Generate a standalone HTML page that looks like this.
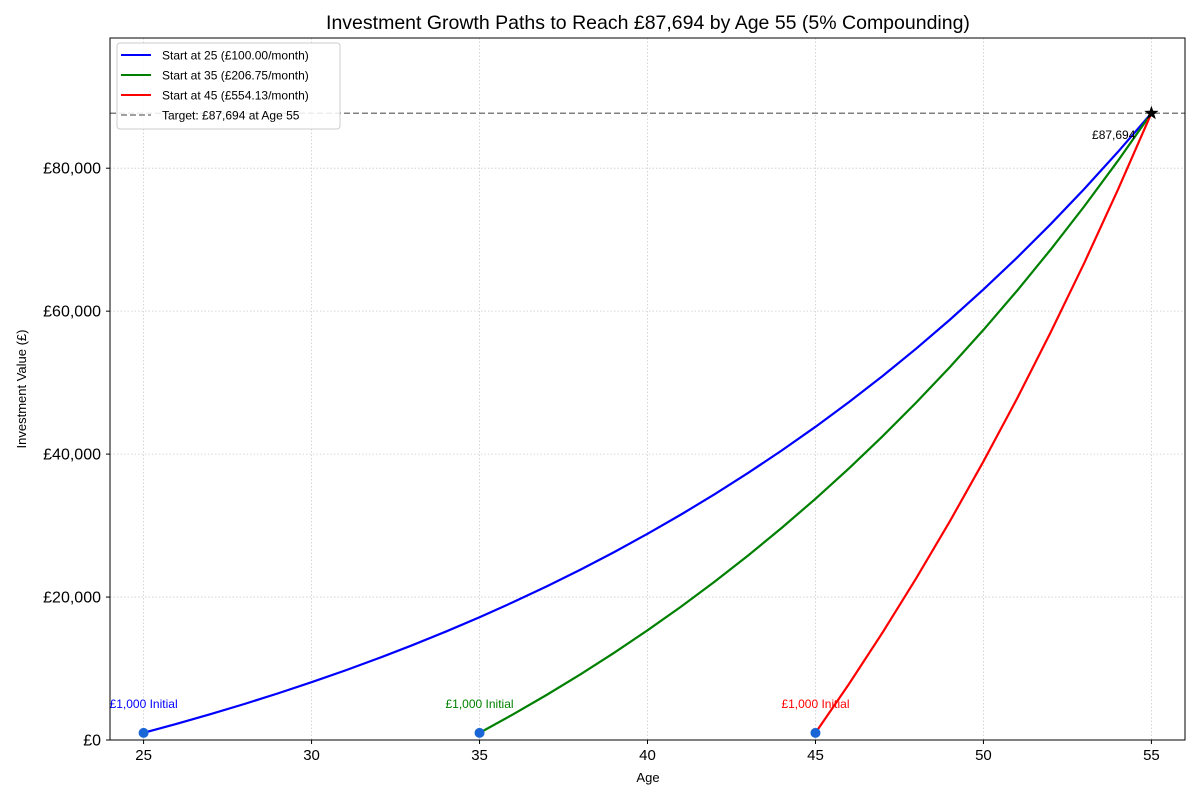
<!DOCTYPE html>
<html><head><meta charset="utf-8"><style>
body{margin:0;background:#fff;}
svg{display:block;font-family:"Liberation Sans",sans-serif;}
</style></head><body>
<svg id="chart" width="1200" height="800">
<rect width="1200" height="800" fill="#fff"/>
<text x="648" y="29" text-anchor="middle" font-size="19.5" fill="#000">Investment Growth Paths to Reach £87,694 by Age 55 (5% Compounding)</text>
<g id="grid"></g><g id="axes"></g><g id="series"></g>
<rect x="110" y="38" width="1075" height="702" fill="none" stroke="#000" stroke-width="1"/>
<text x="648" y="782" text-anchor="middle" font-size="13">Age</text>
<text transform="translate(26,389) rotate(-90)" text-anchor="middle" font-size="13">Investment Value (£)</text>
<g>
<rect x="117" y="43" width="223" height="86" rx="3" fill="#fff" fill-opacity="0.85" stroke="#ccc"/>
<line x1="121" y1="55" x2="151" y2="55" stroke="#0000ff" stroke-width="2"/><text x="162" y="59.5" font-size="12">Start at 25 (£100.00/month)</text>
<line x1="121" y1="75" x2="151" y2="75" stroke="#008000" stroke-width="2"/><text x="162" y="79.5" font-size="12">Start at 35 (£206.75/month)</text>
<line x1="121" y1="95" x2="151" y2="95" stroke="#ff0000" stroke-width="2"/><text x="162" y="99.5" font-size="12">Start at 45 (£554.13/month)</text>
<line x1="121" y1="115" x2="151" y2="115" stroke="#808080" stroke-width="1.5" stroke-dasharray="6,3"/><text x="162" y="119.5" font-size="12">Target: £87,694 at Age 55</text>
</g>
</svg>
<script>
const blueValues=[1000,2279,3624,5037,6522,8085,9725,11453,13265,15173,17175,19283,21498,23825,26273,28843,31548,34390,37378,40518,43815,47285,50933,54768,58798,63033,67485,72168,77088,82260,87694];
const greenValues=[1000,3590,6312,9174,12181,15346,18664,22164,25830,29694,33749,38018,42503,47216,52172,57376,62853,68608,74657,81015,87694];
const redValues=[1000,7853,15058,22633,30594,38969,47764,57023,66731,76956,87694];
const startAges=[25,35,45];
const xTicks=[25,30,35,40,45,50,55];
const yTicks=[0,20000,40000,60000,80000];
const yTickLabels=["£0","£20,000","£40,000","£60,000","£80,000"];
const target=87694, targetAge=55;
const X=a=>110+(a-24)/32*1075;
const Y=v=>740-v/98217*702;
const NS="http://www.w3.org/2000/svg";
function mk(tag,attrs,parent,text){const e=document.createElementNS(NS,tag);for(const k in attrs)e.setAttribute(k,attrs[k]);if(text!==undefined)e.textContent=text;parent.appendChild(e);return e;}
const grid=document.getElementById('grid'),axes=document.getElementById('axes'),ser=document.getElementById('series');
xTicks.forEach(t=>{
 const g=mk('line',{x1:X(t),x2:X(t),y1:38,y2:740,stroke:'#ccc','stroke-dasharray':'1.5,2','stroke-width':0.8},grid);
 
 
 mk('line',{x1:X(t),x2:X(t),y1:740,y2:744,stroke:'#000'},axes);
 const l=mk('text',{x:X(t),y:760,'text-anchor':'middle','font-size':15},axes,String(t));
 
 
});
yTicks.forEach((t,i)=>{
 const g=mk('line',{x1:110,x2:1185,y1:Y(t),y2:Y(t),stroke:'#ccc','stroke-dasharray':'1.5,2','stroke-width':0.8},grid);
 
 
 mk('line',{x1:106,x2:110,y1:Y(t),y2:Y(t),stroke:'#000'},axes);
 const l=mk('text',{x:101,y:Y(t)+5.5,'text-anchor':'end','font-size':16},axes,yTickLabels[i]);
 
 
});
const tl=mk('line',{x1:110,x2:1185,y1:Y(target),y2:Y(target),stroke:'#808080','stroke-width':1.5,'stroke-dasharray':'6,3'},ser);


const series=[[blueValues,'#0000ff','blue-line'],[greenValues,'#008000','green-line'],[redValues,'#ff0000','red-line']];
series.forEach(([vals,col,name],i)=>{
 const a0=startAges[i];
 const p=mk('polyline',{points:vals.map((v,j)=>X(a0+j)+','+Y(v)).join(' '),fill:'none',stroke:col,'stroke-width':2.2},ser);
 
 
});
series.forEach(([vals,col],i)=>{
 const a0=startAges[i];
 const c=mk('circle',{cx:X(a0),cy:Y(vals[0]),r:5,fill:'#1a66d6'},ser);
 
 
 const t=mk('text',{x:X(a0),y:Y(vals[0])-25,'text-anchor':'middle','font-size':12,fill:col},ser,'£1,000 Initial');
 
 
});
const sx=X(targetAge),sy=Y(target);
let pts=[];for(let k=0;k<10;k++){const r=k%2?3:7.5,a=-Math.PI/2+k*Math.PI/5;pts.push((sx+r*Math.cos(a))+','+(sy+r*Math.sin(a)));}
const st=mk('polygon',{points:pts.join(' '),fill:'#000'},ser);


const tt=mk('text',{x:sx-16,y:sy+26,'text-anchor':'end','font-size':12},ser,'£87,694');


</script>
</body></html>
